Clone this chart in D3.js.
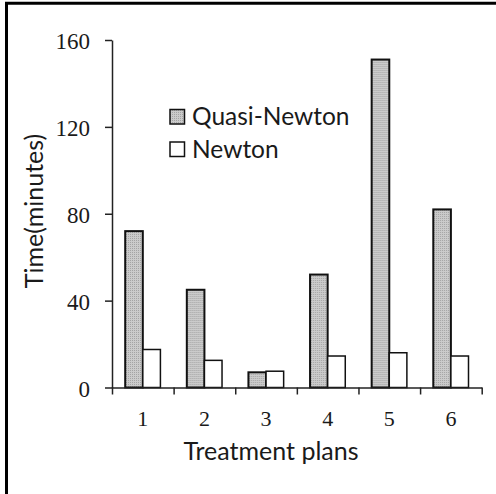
<!DOCTYPE html>
<html>
<head>
<meta charset="utf-8">
<script src="https://cdn.jsdelivr.net/npm/d3@7"></script>
<style>
  html, body { margin: 0; padding: 0; background: #fff; }
  svg { display: block; }
</style>
</head>
<body>
<svg id="chart" width="496" height="494"></svg>
<script>
// ---- data ----
const categories = ["1", "2", "3", "4", "5", "6"];
const seriesNames = ["Quasi-Newton", "Newton"];
const quasiNewton = [72, 45, 7, 52, 151, 82];
const newton = [17.5, 12.5, 7.5, 14.5, 16, 14.5];
const yTicks = [0, 40, 80, 120, 160];
const xTitle = "Treatment plans";
const yTitle = "Time(minutes)";

(function () {
const svg = d3.select("#chart");
const W = 496, H = 494;
const pLeft = 112, pRight = 481.7, pTop = 40, pBottom = 387.5;

// pattern for quasi-newton fill
const defs = svg.append("defs");
const pat = defs.append("pattern").attr("id", "dots")
  .attr("width", 2).attr("height", 2).attr("patternUnits", "userSpaceOnUse");
pat.append("rect").attr("width", 2).attr("height", 2).attr("fill", "#cbcbcb");
pat.append("rect").attr("width", 1).attr("height", 1).attr("fill", "#a4a4a4");

// frame (left & top)
svg.append("line").attr("x1", 6.5).attr("x2", 6.5).attr("y1", 2).attr("y2", H)
  .attr("stroke", "#000").attr("stroke-width", 3);
svg.append("line").attr("x1", 5).attr("x2", W).attr("y1", 3.3).attr("y2", 3.3)
  .attr("stroke", "#000").attr("stroke-width", 3);

// scales
const x0 = d3.scaleBand().domain(categories).range([pLeft, pRight]).paddingInner(0).paddingOuter(0);
const x1 = d3.scaleBand().domain(seriesNames).range([0, x0.bandwidth()]).paddingInner(0).paddingOuter(0.75);
const y = d3.scaleLinear().domain([0, 160]).range([pBottom, pTop]);
const xb = d3.scaleLinear().domain([0, categories.length]).range([pLeft, pRight]);

const fills = { "Quasi-Newton": "url(#dots)", "Newton": "#fff" };
const strokeW = { "Quasi-Newton": 2, "Newton": 1.5 };

const rows = categories.map((c, i) => ({ cat: c, vals: [
  { s: "Quasi-Newton", v: quasiNewton[i] },
  { s: "Newton", v: newton[i] }
]}));

// bars
const g = svg.append("g");
g.selectAll("g.grp").data(rows).join("g").attr("class", "grp")
  .attr("transform", d => `translate(${x0(d.cat)},0)`)
  .selectAll("rect").data(d => d.vals).join("rect")
  .attr("x", d => x1(d.s))
  .attr("y", d => y(d.v))
  .attr("width", x1.bandwidth())
  .attr("height", d => y(0) - y(d.v))
  .attr("fill", d => fills[d.s])
  .attr("stroke", "#111")
  .attr("stroke-width", d => strokeW[d.s]);

// y axis
const yAxis = svg.append("g").attr("transform", `translate(${pLeft},0)`)
  .call(d3.axisLeft(y).tickValues(yTicks).tickSize(7).tickPadding(15).tickSizeOuter(0));
yAxis.select(".domain").attr("stroke", "#222").attr("stroke-width", 1.5);
yAxis.selectAll(".tick line").attr("stroke", "#222").attr("stroke-width", 1.5);
yAxis.selectAll(".tick text").attr("font-family", "'Liberation Serif', 'Times New Roman', serif")
  .attr("font-size", 23).attr("fill", "#1a1a1a").attr("dy", "0.38em");

// x axis boundary ticks
const xAxisB = svg.append("g").attr("transform", `translate(0,${pBottom})`)
  .call(d3.axisBottom(xb).ticks(categories.length).tickFormat("").tickSize(7).tickSizeOuter(0));
xAxisB.select(".domain").attr("stroke", "#222").attr("stroke-width", 1.5);
xAxisB.selectAll(".tick line").attr("stroke", "#222").attr("stroke-width", 1.5);

// x labels
const xAxisL = svg.append("g").attr("transform", `translate(0,${pBottom})`)
  .call(d3.axisBottom(x0).tickSize(0).tickPadding(23));
xAxisL.select(".domain").remove();
xAxisL.selectAll(".tick text").attr("font-family", "'Liberation Serif', 'Times New Roman', serif")
  .attr("font-size", 22).attr("fill", "#1a1a1a");

const sans = "Lato, 'Open Sans', sans-serif";
// axis titles
svg.append("text").attr("x", 271).attr("y", 460).attr("text-anchor", "middle")
  .attr("font-family", sans).attr("font-size", 25).attr("fill", "#1a1a1a").text(xTitle);
svg.append("text").attr("transform", "translate(43,211) rotate(-90)").attr("text-anchor", "middle")
  .attr("font-family", sans).attr("font-size", 25).attr("fill", "#1a1a1a").text(yTitle);

// legend
const leg = svg.append("g");
seriesNames.forEach((s, i) => {
  const yy = 125 + i * 32.5;
  leg.append("rect").attr("x", 170).attr("y", yy - 15.5).attr("width", 14.5).attr("height", 14.5)
    .attr("fill", fills[s]).attr("stroke", "#111").attr("stroke-width", 1.5);
  leg.append("text").attr("x", 192).attr("y", yy).attr("font-family", sans)
    .attr("font-size", 24.5).attr("fill", "#1a1a1a").text(s);
});
})();
</script>
</body>
</html>
